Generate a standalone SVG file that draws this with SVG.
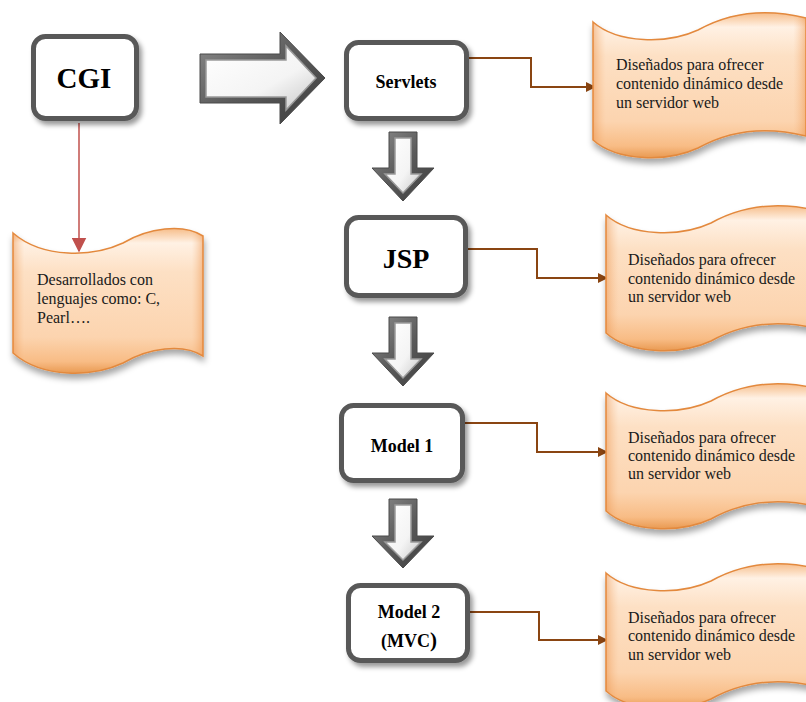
<svg xmlns="http://www.w3.org/2000/svg" width="806" height="702" viewBox="0 0 806 702">
  <defs>
    <style>
      .box { fill: #ffffff; stroke: #595959; stroke-width: 5; filter: url(#boxShadow); }
      .boxlabel { font-family: "Liberation Serif", "Times New Roman", serif; font-weight: bold; fill: #000; text-anchor: middle; }
      .scroll { fill: url(#scrollFill); stroke: #e3893e; stroke-width: 1.5; filter: url(#scrollShadow); }
      .scrollEdge { fill: url(#scrollSides); stroke: none; }
      .scrolltext { font-family: "Liberation Serif", "Times New Roman", serif; font-size: 16px; fill: #1a1a1a; }
      .link { fill: none; stroke: #8a4512; stroke-width: 2; marker-end: url(#brownHead); }
      .redlink { fill: none; stroke: #c0504d; stroke-width: 1.5; marker-end: url(#redHead); }
      .blockOuter { fill: url(#bevelDark); stroke: #4a4a4a; stroke-width: 1; }
      .blockInner { fill: url(#bevelLight); stroke: #9a9a9a; stroke-width: 1.5; }
    </style>
    <filter id="boxShadow" x="-20%" y="-20%" width="150%" height="150%">
      <feDropShadow dx="3" dy="4" stdDeviation="2.5" flood-color="#000" flood-opacity="0.4"/>
    </filter>
    <filter id="scrollShadow" x="-20%" y="-20%" width="150%" height="150%">
      <feDropShadow dx="1" dy="5" stdDeviation="3" flood-color="#000" flood-opacity="0.35"/>
    </filter>
    <linearGradient id="scrollFill" x1="0" y1="0" x2="0" y2="1">
      <stop offset="0" stop-color="#f6bd8a"/>
      <stop offset="0.1" stop-color="#fff1e4"/>
      <stop offset="0.3" stop-color="#fde0c4"/>
      <stop offset="0.75" stop-color="#fcd4af"/>
      <stop offset="0.92" stop-color="#f8bc85"/>
      <stop offset="1" stop-color="#e99a52"/>
    </linearGradient>
    <linearGradient id="scrollSides" x1="0" y1="0" x2="1" y2="0">
      <stop offset="0" stop-color="#e8873a" stop-opacity="0.45"/>
      <stop offset="0.06" stop-color="#f4b27a" stop-opacity="0"/>
      <stop offset="0.94" stop-color="#f4b27a" stop-opacity="0"/>
      <stop offset="1" stop-color="#e8873a" stop-opacity="0.45"/>
    </linearGradient>
    <linearGradient id="bevelDark" x1="0" y1="0" x2="1" y2="1">
      <stop offset="0" stop-color="#8c8c8c"/>
      <stop offset="0.5" stop-color="#5a5a5a"/>
      <stop offset="1" stop-color="#3c3c3c"/>
    </linearGradient>
    <linearGradient id="bevelLight" x1="0" y1="0" x2="1" y2="1">
      <stop offset="0" stop-color="#ffffff"/>
      <stop offset="0.6" stop-color="#f4f4f4"/>
      <stop offset="1" stop-color="#c8c8c8"/>
    </linearGradient>
    <marker id="brownHead" viewBox="0 0 10 10" refX="9" refY="5" markerWidth="5" markerHeight="5" orient="auto" markerUnits="strokeWidth">
      <path d="M0,0 L10,5 L0,10 Z" fill="#8a4512"/>
    </marker>
    <marker id="redHead" viewBox="0 0 10 10" refX="9" refY="5" markerWidth="15" markerHeight="15" orient="auto" markerUnits="userSpaceOnUse">
      <path d="M0,0 L10,5 L0,10 Z" fill="#c0504d"/>
    </marker>
    <!-- wave outlines -->
    <path id="waveSmall" d="M0,0 C30,26 80,24 110,10 C135,-5 170,-10 190,3 L190,123 C170,110 135,115 110,130 C80,144 30,146 0,120 Z"/>
    <path id="waveLarge" d="M0,0 C25,22 75,22 105,8 C130,-6 165,-16 213,-4 L213,114 C165,102 130,112 105,126 C75,140 25,140 0,118 Z"/>
  </defs>

  <rect width="806" height="702" fill="#ffffff"/>

  <!-- connectors: thin elbow links, the red link and the grey block arrows -->
  <g id="connectors">
    <path class="redlink" d="M79,123 V251"/>
    <path class="link" d="M469,58 H531 V87 H595"/>
    <path class="link" d="M468,249 H537 V278 H607"/>
    <path class="link" d="M465,423 H537 V452 H607"/>
    <path class="link" d="M470,612 H539 V640 H607"/>

    <g id="flow-arrows">
      <!-- CGI to Servlets -->
      <polygon class="blockOuter" points="200,54 280,54 280,32 325,78 280,124 280,103 200,103"/>
      <polygon class="blockInner" points="206,60 286,60 286,46 316,78 286,110 286,97 206,97"/>
      <!-- Servlets to JSP -->
      <polygon class="blockOuter" points="389,132 417,132 417,168 434,168 403,201 372,168 389,168"/>
      <polygon class="blockInner" points="395,138 411,138 411,174 421,174 403,193 385,174 395,174"/>
      <!-- JSP to Model 1 -->
      <polygon class="blockOuter" points="389,317 417,317 417,353 434,353 403,386 372,353 389,353"/>
      <polygon class="blockInner" points="395,323 411,323 411,359 421,359 403,378 385,359 395,359"/>
      <!-- Model 1 to Model 2 -->
      <polygon class="blockOuter" points="389,499 417,499 417,536 434,536 403,568 372,536 389,536"/>
      <polygon class="blockInner" points="395,505 411,505 411,542 421,542 403,560 385,542 395,542"/>
    </g>
  </g>

  <!-- process boxes -->
  <g id="node-cgi">
    <rect class="box" x="33.5" y="36.5" width="103" height="82" rx="12"/>
    <text class="boxlabel" x="84" y="88" font-size="29">CGI</text>
  </g>
  <g id="node-servlets">
    <rect class="box" x="346.5" y="42.5" width="120" height="76" rx="12"/>
    <text class="boxlabel" x="406" y="88" font-size="18">Servlets</text>
  </g>
  <g id="node-jsp">
    <rect class="box" x="346.5" y="217.5" width="119" height="78" rx="12"/>
    <text class="boxlabel" x="406" y="268" font-size="28">JSP</text>
  </g>
  <g id="node-model1">
    <rect class="box" x="341.5" y="405.5" width="121" height="75" rx="12"/>
    <text class="boxlabel" x="402" y="452" font-size="18">Model 1</text>
  </g>
  <g id="node-model2">
    <rect class="box" x="348.5" y="585.5" width="119" height="75" rx="12"/>
    <text class="boxlabel" x="409" y="618" font-size="18">Model 2</text>
    <text class="boxlabel" x="409" y="647" font-size="18">(MVC<tspan font-size="21">)</tspan></text>
  </g>

  <!-- wavy note shapes -->
  <g id="note-cgi">
    <g transform="translate(13,233)">
      <use href="#waveSmall" class="scroll"/>
      <use href="#waveSmall" class="scrollEdge"/>
    </g>
    <text class="scrolltext" x="37" y="285">Desarrollados con</text>
    <text class="scrolltext" x="37" y="304">lenguajes como: C,</text>
    <text class="scrolltext" x="37" y="323">Pearl….</text>
  </g>
  <g id="note-servlets">
    <g transform="translate(593,22)">
      <use href="#waveLarge" class="scroll"/>
      <use href="#waveLarge" class="scrollEdge"/>
    </g>
    <text class="scrolltext" x="616" y="70">Diseñados para ofrecer</text>
    <text class="scrolltext" x="616" y="89">contenido dinámico desde</text>
    <text class="scrolltext" x="616" y="108">un servidor web</text>
  </g>
  <g id="note-jsp">
    <g transform="translate(606,215)">
      <use href="#waveLarge" class="scroll"/>
      <use href="#waveLarge" class="scrollEdge"/>
    </g>
    <text class="scrolltext" x="628" y="265">Diseñados para ofrecer</text>
    <text class="scrolltext" x="628" y="284">contenido dinámico desde</text>
    <text class="scrolltext" x="628" y="302">un servidor web</text>
  </g>
  <g id="note-model1">
    <g transform="translate(606,393)">
      <use href="#waveLarge" class="scroll"/>
      <use href="#waveLarge" class="scrollEdge"/>
    </g>
    <text class="scrolltext" x="628" y="443">Diseñados para ofrecer</text>
    <text class="scrolltext" x="628" y="461">contenido dinámico desde</text>
    <text class="scrolltext" x="628" y="479">un servidor web</text>
  </g>
  <g id="note-model2">
    <g transform="translate(606,573)">
      <use href="#waveLarge" class="scroll"/>
      <use href="#waveLarge" class="scrollEdge"/>
    </g>
    <text class="scrolltext" x="628" y="623">Diseñados para ofrecer</text>
    <text class="scrolltext" x="628" y="641">contenido dinámico desde</text>
    <text class="scrolltext" x="628" y="660">un servidor web</text>
  </g>
</svg>
